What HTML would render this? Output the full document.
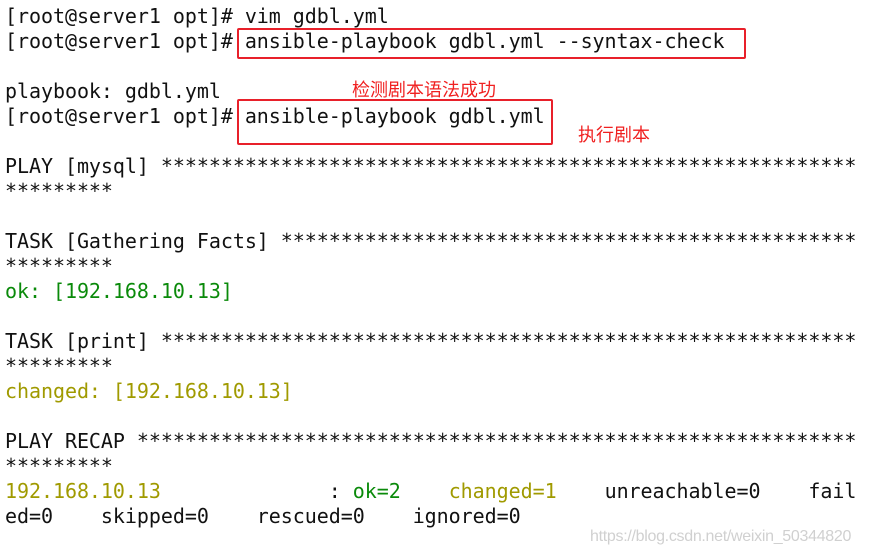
<!DOCTYPE html>
<html><head><meta charset="utf-8"><style>
body{margin:0;width:871px;height:557px;background:#fff;position:relative;overflow:hidden}
pre{position:absolute;left:5px;top:4px;margin:0;font-family:"DejaVu Sans Mono","Liberation Mono",monospace;font-size:20px;line-height:25px;color:#111;letter-spacing:-0.05px}
.g{color:#0a8a0a}.y{color:#a09a00}
.box{position:absolute;border:2px solid #e8202a;border-radius:2px}
.r{position:absolute;color:#f02020;font-family:"Liberation Sans","Noto Sans CJK SC",sans-serif;font-size:18px;white-space:nowrap}
.wm{position:absolute;left:590px;top:528px;color:#d0d0d0;font-family:"Liberation Sans",sans-serif;font-size:16px;letter-spacing:-0.3px}
</style></head><body>
<pre>[root@server1 opt]# vim gdbl.yml
[root@server1 opt]# ansible-playbook gdbl.yml --syntax-check

playbook: gdbl.yml
[root@server1 opt]# ansible-playbook gdbl.yml

PLAY [mysql] **********************************************************
*********

TASK [Gathering Facts] ************************************************
*********
<span class="g">ok: [192.168.10.13]</span>

TASK [print] **********************************************************
*********
<span class="y">changed: [192.168.10.13]</span>

PLAY RECAP ************************************************************
*********
<span class="y">192.168.10.13</span>              : <span class="g">ok=2</span>    <span class="y">changed=1</span>    unreachable=0    fail
ed=0    skipped=0    rescued=0    ignored=0</pre>
<div class="box" style="left:237px;top:28px;width:505px;height:27px"></div>
<div class="box" style="left:237px;top:99px;width:312px;height:42px"></div>
<div class="r" style="left:352px;top:76px">检测剧本语法成功</div>
<div class="r" style="left:578px;top:121px">执行剧本</div>
<div class="wm">https://blog.csdn.net/weixin_50344820</div>
</body></html>
